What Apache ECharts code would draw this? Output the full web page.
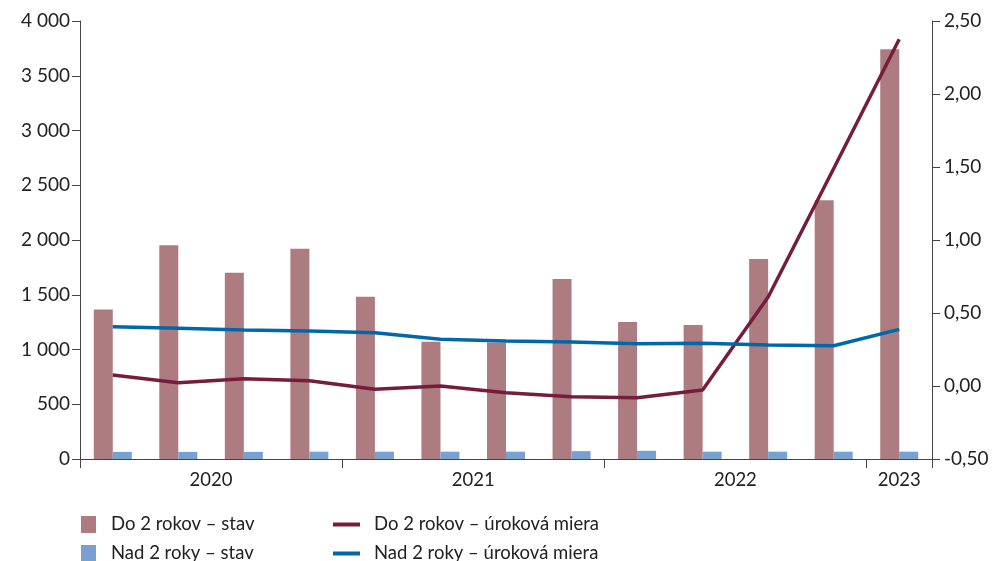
<!DOCTYPE html>
<html><head><meta charset="utf-8">
<script src="https://cdn.jsdelivr.net/npm/echarts@6/dist/echarts.min.js"></script>
<style>html,body{margin:0;padding:0;background:#fff}#c{width:998px;height:561px}</style>
</head><body><div id="c"></div>
<script>
const categories = ['2020Q1','2020Q2','2020Q3','2020Q4','2021Q1','2021Q2','2021Q3','2021Q4','2022Q1','2022Q2','2022Q3','2022Q4','2023Q1'];
const yearLabels = ['2020','2021','2022','2023'];
const yearLabelPos = [2, 6, 10, 12.5];
const yearTickPos = [0, 4, 8, 12, 13];
const do2Stav = [1365, 1952, 1701, 1921, 1482, 1071, 1065, 1644, 1251, 1224, 1826, 2362, 3741];
const nad2Stav = [65, 65, 65, 67, 67, 67, 67, 72, 75, 67, 67, 67, 67];
const do2Miera = [0.075, 0.023, 0.05, 0.036, -0.023, 0.0, -0.046, -0.073, -0.08, -0.027, 0.61, 1.49, 2.375];
const nad2Miera = [0.406, 0.395, 0.383, 0.377, 0.365, 0.32, 0.308, 0.301, 0.29, 0.292, 0.281, 0.276, 0.388];

const font = 'Lato';
const chart = echarts.init(document.getElementById('c'));
chart.setOption({
  animation: false,
  textStyle: {fontFamily: font},
  grid: {left: 80, right: 66, top: 21, bottom: 102},
  legend: [
    {data: ['Do 2 rokov – stav', 'Nad 2 roky – stav'], orient: 'vertical', left: 81, top: 515, padding: 0, itemGap: 10, height: 50,
     icon: 'rect', itemWidth: 15, itemHeight: 17, textStyle: {fontFamily: font, fontSize: 18.5, color: '#222', padding: [0,0,0,10]}},
    {data: ['Do 2 rokov – úroková miera', 'Nad 2 roky – úroková miera'], orient: 'vertical', left: 333, top: 515, padding: 0, itemGap: 10, height: 50,
     icon: 'rect', itemWidth: 27, itemHeight: 4, textStyle: {fontFamily: font, fontSize: 18.5, color: '#222', padding: [0,0,0,9]}}
  ],
  xAxis: [
    {type: 'category', data: categories, boundaryGap: true,
     axisLine: {onZero: false, lineStyle: {color: '#444', width: 1}},
     axisTick: {show: false}, axisLabel: {show: false}},
    {type: 'value', min: 0, max: 13, position: 'bottom', gridIndex: 0,
     axisLine: {show: false, onZero: false}, splitLine: {show: false},
     axisTick: {show: true, inside: false, length: 9, lineStyle: {color: '#444'}, customValues: yearTickPos},
     axisLabel: {customValues: yearLabelPos, color: '#222', fontSize: 18.5, margin: 12,
       formatter: v => yearLabels[yearLabelPos.indexOf(v)] || ''}}
  ],
  yAxis: [
    {type: 'value', min: 0, max: 4000, interval: 500, position: 'left',
     axisLine: {show: true, lineStyle: {color: '#444'}},
     axisTick: {show: true, length: 8, lineStyle: {color: '#444'}},
     splitLine: {show: false},
     axisLabel: {color: '#222', fontSize: 19, margin: 10,
       formatter: v => String(v).replace(/\B(?=(\d{3})+(?!\d))/g, ' ')}},
    {type: 'value', min: -0.5, max: 2.5, interval: 0.5, position: 'right',
     axisLine: {show: true, lineStyle: {color: '#444'}},
     axisTick: {show: true, length: 8, lineStyle: {color: '#444'}},
     splitLine: {show: false},
     axisLabel: {color: '#222', fontSize: 19, margin: 12,
       formatter: v => v.toFixed(2).replace('.', ',')}}
  ],
  series: [
    {name: 'Do 2 rokov – stav', type: 'bar', data: do2Stav, barWidth: 19, barGap: '0%',
     itemStyle: {color: '#ad7c81'}},
    {name: 'Nad 2 roky – stav', type: 'bar', data: nad2Stav, barWidth: 19, barGap: '0%',
     itemStyle: {color: '#78a0d0'}},
    {name: 'Do 2 rokov – úroková miera', type: 'line', yAxisIndex: 1, data: do2Miera,
     symbol: 'none', lineStyle: {color: '#761c3c', width: 3.5}, itemStyle: {color: '#761c3c'}},
    {name: 'Nad 2 roky – úroková miera', type: 'line', yAxisIndex: 1, data: nad2Miera,
     symbol: 'none', lineStyle: {color: '#0068aa', width: 3.5}, itemStyle: {color: '#0068aa'}}
  ]
});
</script></body></html>
